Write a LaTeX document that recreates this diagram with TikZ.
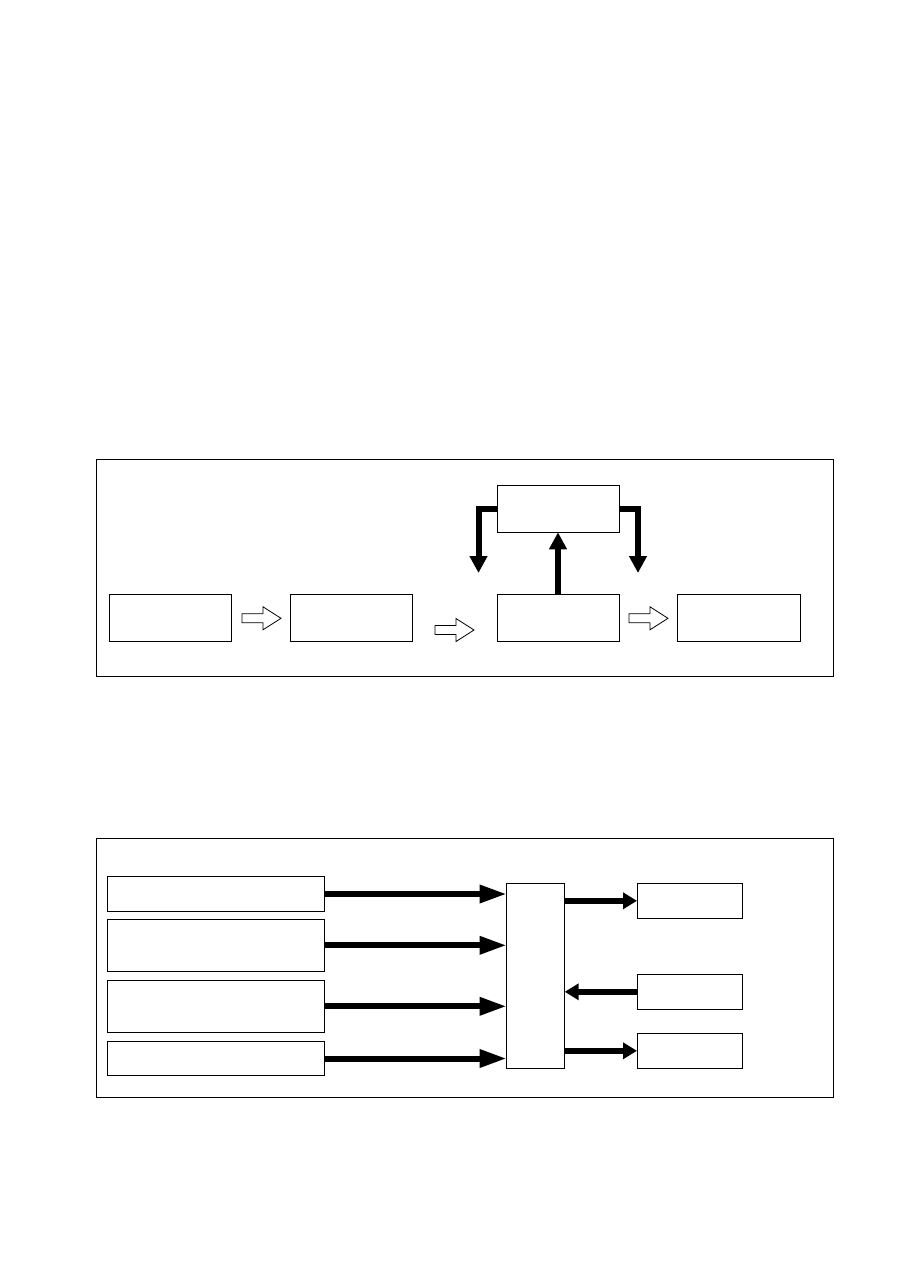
\documentclass[tikz,border=0pt]{standalone}
\usetikzlibrary{arrows.meta}
\begin{document}
\begin{tikzpicture}[x=1pt,y=-1pt,
  box/.style={draw,line width=0.9pt,inner sep=0pt,outer sep=0pt,fill=white},
  frame/.style={draw,line width=0.9pt},
  thickarr/.style={line width=6pt,-{Triangle[length=17pt,width=17pt]}},
  longarr/.style={line width=6pt,-{Triangle[length=27pt,width=17pt]}},
  shortarr/.style={line width=6pt,-{Triangle[length=14pt,width=16pt]}},
  harrow/.pic={\draw[line width=0.8pt,fill=white] (0,-4.5) -- (21,-4.5) -- (21,-11.5) -- (39,0) -- (21,11.5) -- (21,4.5) -- (0,4.5) -- cycle;}]
\useasboundingbox (0,0) rectangle (909,1286);
% top frame
\draw[frame] (96.5,459.5) rectangle (833,676.5);
\node[box,minimum width=122pt,minimum height=47pt] (b1) at (170,617.5) {};
\node[box,minimum width=122pt,minimum height=47pt] (b2) at (351,617.5) {};
\node[box,minimum width=122pt,minimum height=47pt] (b3) at (558,617.5) {};
\node[box,minimum width=123pt,minimum height=47pt] (b4) at (739,617.5) {};
\node[box,minimum width=122pt,minimum height=46.6pt] (tb) at (558,509) {};
\pic (h1) at (242,618.3) {harrow};
\pic (h2) at (435,630) {harrow};
\pic (h3) at (629,618.3) {harrow};
\coordinate (fl) at (478.5,573);
\coordinate (fr) at (638,573);
\draw[thickarr] (tb.west) -| (fl);
\draw[thickarr] (tb.east) -| (fr);
\draw[thickarr] (b3.north) -- (tb.south);
% bottom frame
\draw[frame] (96.5,838.5) rectangle (833,1097.5);
\node[box,minimum width=216.7pt,minimum height=34.6pt] (A) at (216,894) {};
\node[box,minimum width=216.7pt,minimum height=52pt] (B) at (216,945.3) {};
\node[box,minimum width=216.7pt,minimum height=52pt] (C) at (216,1006.3) {};
\node[box,minimum width=216.7pt,minimum height=34.4pt] (D) at (216,1058.5) {};
\node[box,minimum width=58pt,minimum height=185pt] (M) at (535.7,975.8) {};
\node[box,minimum width=105.6pt,minimum height=35pt] (R1) at (689.8,900.8) {};
\node[box,minimum width=105.6pt,minimum height=35pt] (R2) at (689.8,991.8) {};
\node[box,minimum width=105.6pt,minimum height=35pt] (R3) at (689.8,1050.8) {};
\draw[longarr] (A.east) -- (A.east -| M.west);
\draw[longarr] (B.east) -- (B.east -| M.west);
\draw[longarr] (C.east) -- (C.east -| M.west);
\draw[longarr] (D.east) -- (D.east -| M.west);
\draw[shortarr] (R1.west -| M.east) -- (R1.west);
\draw[shortarr] (R2.west) -- (R2.west -| M.east);
\draw[shortarr] (R3.west -| M.east) -- (R3.west);
\end{tikzpicture}
\end{document}
